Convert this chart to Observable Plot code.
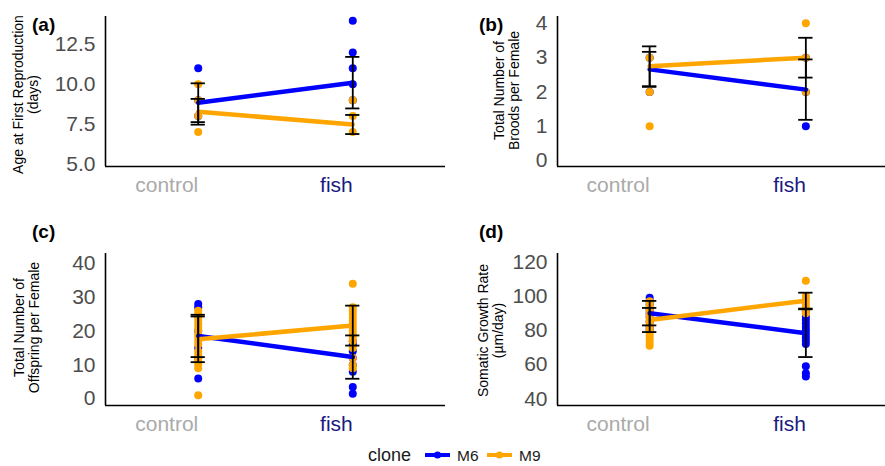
<!DOCTYPE html>
<html><head><meta charset="utf-8">
<script src="https://cdn.jsdelivr.net/npm/d3@7"></script>
<script src="https://cdn.jsdelivr.net/npm/@observablehq/plot@0.6"></script>
<style>
body{margin:0;background:#fff;font-family:"Liberation Sans",Arial,sans-serif;}
#root{position:relative;width:885px;height:466px;overflow:hidden;}
.panel{position:absolute;}
.tag{position:absolute;font-weight:bold;font-size:19px;line-height:19px;color:#000;}
#legend{position:absolute;top:442px;left:365px;}
</style></head>
<body><div id="root"></div>
<script>
// ---------- data ----------
const treatments = ["control", "fish"];
const clones = ["M6", "M9"];
const cloneColors = ["#0000ff", "#ffa500"];
const tickColors = ["#aaaaaa", "#1a1a80"];

// (a) Age at first reproduction (days)
const agePoints = [
  ["control", "M6", [11, 9, 8]],
  ["control", "M9", [10, 9, 8, 7]],
  ["fish", "M6", [14, 12, 11, 10, 9]],
  ["fish", "M9", [9, 8, 7]]
];
const ageStats = [ // treatment, clone, mean, se
  ["control", "M6", 8.84, 1.22],
  ["control", "M9", 8.27, 0.81],
  ["fish", "M6", 10.1, 1.62],
  ["fish", "M9", 7.47, 0.60]
];
const ageTicks = [5, 7.5, 10, 12.5];

// (b) Total number of broods per female
const broodPoints = [
  ["control", "M6", [3, 2]],
  ["control", "M9", [3, 2, 1]],
  ["fish", "M6", [3, 2, 1]],
  ["fish", "M9", [4, 3, 2]]
];
const broodStats = [
  ["control", "M6", 2.66, 0.51],
  ["control", "M9", 2.75, 0.58],
  ["fish", "M6", 2.07, 0.88],
  ["fish", "M9", 3.0, 0.58]
];
const broodTicks = [0, 1, 2, 3, 4];

// (c) Total number of offspring per female
const offspringPoints = [
  ["control", "M6", [28, 27, 20, 15, 12, 6]],
  ["control", "M9", [26, 25, 24, 23, 22, 21, 20, 19, 18, 17, 16, 14, 13, 12, 11, 10, 9, 1]],
  ["fish", "M6", [17, 16, 14, 12, 10, 8, 3.5, 1.5]],
  ["fish", "M9", [34, 27, 26, 25, 24, 23, 22, 21, 20, 19, 18, 17, 15, 12, 10, 9]]
];
const offspringStats = [
  ["control", "M6", 18.55, 6.25],
  ["control", "M9", 17.55, 6.75],
  ["fish", "M6", 12.3, 6.4],
  ["fish", "M9", 21.6, 5.9]
];
const offspringTicks = [0, 10, 20, 30, 40];

// (d) Somatic growth rate (µm/day)
const growthPoints = [
  ["control", "M6", [99, 97, 95, 92, 90, 88, 85, 82, 80]],
  ["control", "M9", [97, 95, 93, 91, 89, 87, 85, 83, 81, 79, 77, 75, 73, 71]],
  ["fish", "M6", [91, 88, 86, 84, 82, 80, 78, 76, 74, 72, 59, 55, 53]],
  ["fish", "M9", [109, 100, 98, 96, 94, 92, 90]]
];
const growthStats = [
  ["control", "M6", 90.05, 7.15],
  ["control", "M9", 86.05, 7.05],
  ["fish", "M6", 78.35, 13.95],
  ["fish", "M9", 97.35, 4.65]
];
const growthTicks = [40, 60, 80, 100, 120];

// ---------- drawing ----------
const root = document.getElementById("root");
const FONT = '"Liberation Sans", Arial, sans-serif';
const CAP = 0.046;

function drawPanel(cfg) {
  const pts = cfg.points.flatMap(([t, c, vals]) => vals.map(v => ({treatment: t, clone: c, value: v})));
  const stats = cfg.stats.map(([t, c, m, s]) => ({treatment: t, clone: c, mean: m, lo: m - s, hi: m + s}));
  const X = d => treatments.indexOf(d.treatment);
  const chart = Plot.plot({
    width: cfg.width, height: cfg.height,
    marginTop: cfg.mt, marginBottom: cfg.mb, marginLeft: cfg.ml, marginRight: 0,
    style: {fontFamily: FONT, background: "transparent", overflow: "visible"},
    x: {type: "linear", domain: cfg.xdomain, label: null},
    y: {type: "linear", domain: cfg.ydomain, label: null},
    color: {domain: clones, range: cloneColors},
    marks: [
      Plot.dot(pts, {x: X, y: "value", fill: "clone", r: 4}),
      Plot.line(stats, {x: X, y: "mean", stroke: "clone", z: "clone", strokeWidth: 4.5}),
      Plot.ruleX(stats, {x: X, y1: "lo", y2: "hi", stroke: "black", strokeWidth: 1.8}),
      Plot.ruleY(stats, {y: "lo", x1: d => X(d) - CAP, x2: d => X(d) + CAP, stroke: "black", strokeWidth: 1.8}),
      Plot.ruleY(stats, {y: "hi", x1: d => X(d) - CAP, x2: d => X(d) + CAP, stroke: "black", strokeWidth: 1.8}),
      Plot.ruleY([cfg.ydomain[0]], {stroke: "black", strokeWidth: 1.6}),
      Plot.ruleX([cfg.xdomain[0]], {stroke: "black", strokeWidth: 1.6}),
      Plot.axisY({ticks: cfg.yticks, tickFormat: cfg.yfmt, tickSize: 0, tickPadding: 10, fontSize: 21, fill: "#4d4d4d", label: null}),
      ...treatments.map((t, i) => Plot.axisX({ticks: [i], tickFormat: () => t, tickSize: 0, tickPadding: 10.5,
        fontSize: 21, fill: tickColors[i], textAnchor: "end", label: null})),
      Plot.text([cfg.ytitle], {text: d => d, frameAnchor: "left", textAnchor: "middle", lineAnchor: "middle",
        rotate: -90, dx: cfg.titleDx, dy: cfg.titleDy, fontSize: 14, lineHeight: 1.05, fill: "#000"})
    ]
  });
  const wrap = document.createElement("div");
  wrap.className = "panel";
  wrap.style.left = cfg.left + "px";
  wrap.style.top = cfg.top + "px";
  wrap.appendChild(chart);
  root.appendChild(wrap);
  const tag = document.createElement("div");
  tag.className = "tag";
  tag.textContent = cfg.tag;
  tag.style.left = cfg.tagX + "px";
  tag.style.top = cfg.tagY + "px";
  root.appendChild(tag);
}

drawPanel({left: 0, top: 0, width: 445, height: 200, mt: 16, mb: 34, ml: 105,
  xdomain: [-0.6, 1.6], ydomain: [4.83, 14.26], yticks: ageTicks, yfmt: d3.format(".1f"),
  points: agePoints, stats: ageStats, ytitle: "Age at First Reproduction\n(days)", titleDx: -80, titleDy: 3,
  tag: "(a)", tagX: 32, tagY: 15});
drawPanel({left: 440, top: 0, width: 445, height: 200, mt: 16, mb: 34, ml: 117,
  xdomain: [-0.59, 1.51], ydomain: [-0.17, 4.2], yticks: broodTicks, yfmt: d => d,
  points: broodPoints, stats: broodStats, ytitle: "Total Number of\nBroods per Female", titleDx: -51, titleDy: -1,
  tag: "(b)", tagX: 479, tagY: 15});
drawPanel({left: 0, top: 210, width: 445, height: 230, mt: 43, mb: 35, ml: 105,
  xdomain: [-0.6, 1.6], ydomain: [-2, 42.9], yticks: offspringTicks, yfmt: d => d,
  points: offspringPoints, stats: offspringStats, ytitle: "Total Number of\nOffspring per Female", titleDx: -79, titleDy: -2,
  tag: "(c)", tagX: 32, tagY: 222});
drawPanel({left: 440, top: 210, width: 445, height: 230, mt: 43, mb: 35, ml: 117,
  xdomain: [-0.59, 1.51], ydomain: [36.1, 124.9], yticks: growthTicks, yfmt: d => d,
  points: growthPoints, stats: growthStats, ytitle: "Somatic Growth Rate\n(µm/day)", titleDx: -67, titleDy: 1,
  tag: "(d)", tagX: 479, tagY: 222});

// legend (svg, keys built from clones/cloneColors)
const NS = "http://www.w3.org/2000/svg";
const leg = document.createElementNS(NS, "svg");
leg.setAttribute("id", "legend");
leg.setAttribute("width", 200);
leg.setAttribute("height", 23);
leg.setAttribute("font-family", FONT);
let inner = `<text x="3" y="19" font-size="18" fill="#1a1a1a">clone</text>`;
clones.forEach((c, i) => {
  const x0 = 60 + i * 62;
  inner += `<line x1="${x0}" x2="${x0 + 25}" y1="13" y2="13" stroke="${cloneColors[i]}" stroke-width="4"/>` +
           `<circle cx="${x0 + 12.5}" cy="13" r="3.6" fill="${cloneColors[i]}"/>` +
           `<text x="${x0 + 32}" y="19" font-size="15.5" fill="#1a1a1a">${c}</text>`;
});
leg.innerHTML = inner;
root.appendChild(leg);
</script>
</body></html>
